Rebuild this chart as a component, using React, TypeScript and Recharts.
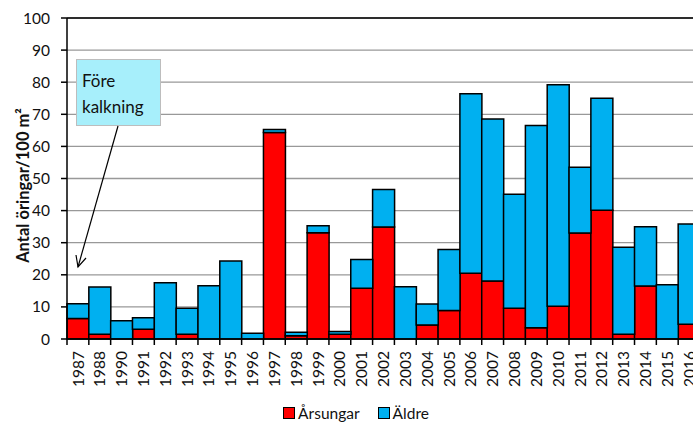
import React from "react"
import {
  BarChart,
  Bar,
  CartesianGrid,
  XAxis,
  YAxis,
  Legend,
  ReferenceLine
} from "recharts"

// Fish survey: trout per 100 m², split into young-of-year and older fish
const years = [
  "1987", "1988", "1990", "1991", "1992", "1993", "1994", "1995", "1996", "1997",
  "1998", "1999", "2000", "2001", "2002", "2003", "2004", "2005", "2006", "2007",
  "2008", "2009", "2010", "2011", "2012", "2013", "2014", "2015", "2016"
]
const arsungar = [
  6.4, 1.5, 0, 3.0, 0, 1.5, 0, 0, 0, 64.3,
  1.0, 33.1, 1.5, 15.8, 34.9, 0, 4.4, 8.9, 20.5, 18.1,
  9.6, 3.5, 10.2, 33.0, 40.1, 1.5, 16.5, 0, 4.6
]
const aldre = [
  4.6, 14.7, 5.7, 3.6, 17.5, 8.1, 16.6, 24.3, 1.8, 1.0,
  1.1, 2.2, 0.8, 9.0, 11.7, 16.3, 6.5, 19.0, 55.9, 50.4,
  35.5, 63.0, 69.0, 20.5, 34.9, 27.1, 18.5, 16.9, 31.2
]
const yTicks = [0, 10, 20, 30, 40, 50, 60, 70, 80, 90, 100]

const data = years.map((year, i) => ({ year, arsungar: arsungar[i], aldre: aldre[i] }))

const FONT = "Lato, 'Open Sans', sans-serif"
const RED = "#ff0000"
const BLUE = "#00b0f0"

const CHART_W = 700
const MARGIN = { top: 18, right: 0, bottom: 0, left: 10 }
const Y_AXIS_W = 57
const BAND = (CHART_W - MARGIN.left - Y_AXIS_W - MARGIN.right) / years.length

// year label rotated upwards, plus tick mark on the left category boundary
function YearTick(props: any) {
  const { x, y, payload } = props
  return (
    <g transform={`translate(${x},${y})`}>
      <line x1={-BAND / 2} x2={-BAND / 2} y1={0} y2={6} stroke="#000" strokeWidth={1.5} />
      <text
        transform="rotate(-90)"
        x={-12}
        y={0}
        dy="0.36em"
        textAnchor="end"
        fontSize={15.5}
        fontFamily={FONT}
        fill="#111"
      >
        {payload.value}
      </text>
    </g>
  )
}

function LegendContent() {
  const item = (color: string, text: string, gap: number) => (
    <span style={{ display: "inline-flex", alignItems: "center", marginRight: gap }}>
      <span
        style={{
          width: 10,
          height: 10,
          background: color,
          border: "1px solid #000",
          marginRight: 3
        }}
      />
      {text}
    </span>
  )
  return (
    <div
      style={{
        height: 28,
        display: "flex",
        justifyContent: "center",
        alignItems: "center",
        fontFamily: FONT,
        fontSize: 15.5,
        color: "#111",
        paddingLeft: 2,
        transform: "translateY(4px)"
      }}
    >
      {item(RED, "Årsungar", 18)}
      {item(BLUE, "Äldre", 0)}
    </div>
  )
}

export default function App() {
  return (
    <div
      style={{
        position: "absolute",
        left: 0,
        top: 0,
        width: 693,
        height: 423,
        overflow: "hidden",
        background: "#fff"
      }}
    >
      <BarChart
        width={CHART_W}
        height={423}
        data={data}
        margin={MARGIN}
        barCategoryGap={0}
        barGap={0}
      >
        <CartesianGrid vertical={false} stroke="#999" strokeWidth={1.3} />
        <XAxis
          dataKey="year"
          interval={0}
          height={56}
          tickSize={0}
          tickMargin={0}
          tick={<YearTick />}
          axisLine={{ stroke: "#000", strokeWidth: 1.5 }}
        />
        <YAxis
          domain={[0, 100]}
          ticks={yTicks}
          width={Y_AXIS_W}
          tickSize={6}
          tickMargin={11}
          axisLine={{ stroke: "#000", strokeWidth: 1.5 }}
          tickLine={{ stroke: "#000", strokeWidth: 1.5 }}
          tick={{ fontSize: 15.5, fontFamily: FONT, fill: "#111" }}
          label={({ viewBox }: any) => (
            <text
              x={23}
              y={viewBox.y + viewBox.height / 2 + 7}
              transform={`rotate(-90, 23, ${viewBox.y + viewBox.height / 2 + 7})`}
              textAnchor="middle"
              dominantBaseline="central"
              fontSize={16.5}
              fontWeight="bold"
              fontFamily={FONT}
              fill="#111"
            >
              Antal öringar/100 m²
            </text>
          )}
        />
        <ReferenceLine y={100} stroke="#000" strokeWidth={1.5} />
        <Legend verticalAlign="bottom" content={<LegendContent />} />
        <Bar
          dataKey="arsungar"
          name="Årsungar"
          stackId="a"
          fill={RED}
          stroke="#000"
          strokeWidth={1.5}
          isAnimationActive={false}
        />
        <Bar
          dataKey="aldre"
          name="Äldre"
          stackId="a"
          fill={BLUE}
          stroke="#000"
          strokeWidth={1.5}
          isAnimationActive={false}
        />
      </BarChart>

      {/* callout marking the years before liming */}
      <div
        style={{
          position: "absolute",
          left: 76,
          top: 59,
          width: 85,
          height: 67,
          boxSizing: "border-box",
          background: "#a7effb",
          border: "1px solid #bdbdbd",
          fontFamily: FONT,
          fontSize: 17,
          lineHeight: "26px",
          color: "#111",
          padding: "8px 0 0 5px"
        }}
      >
        Före
        <br />
        kalkning
      </div>
      <svg
        width={693}
        height={423}
        style={{ position: "absolute", left: 0, top: 0, pointerEvents: "none" }}
      >
        <line x1={118} y1={126} x2={78} y2={267} stroke="#000" strokeWidth={1.2} />
        <polyline
          points="76,255 78,267 86,258"
          fill="none"
          stroke="#000"
          strokeWidth={1.2}
        />
      </svg>
    </div>
  )
}
